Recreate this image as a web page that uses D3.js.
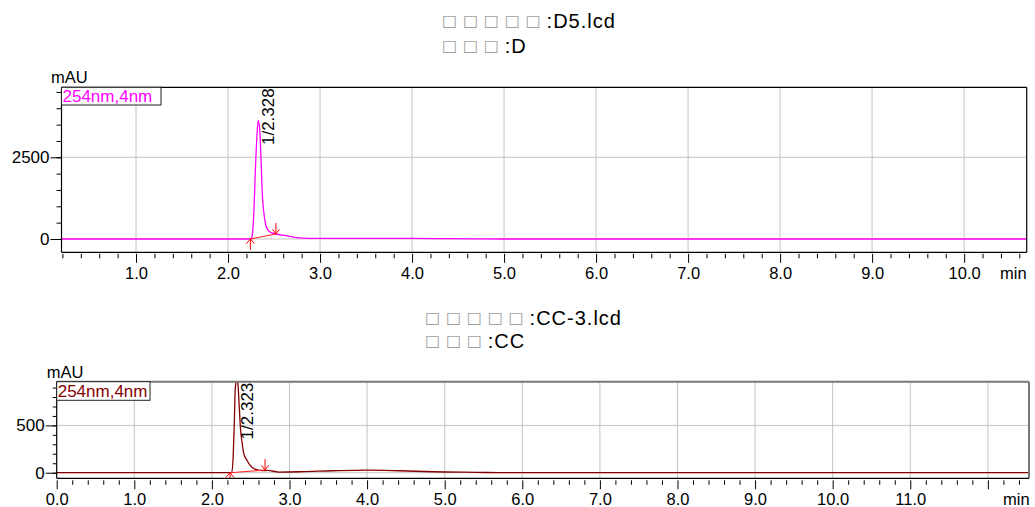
<!DOCTYPE html>
<html>
<head>
<meta charset="utf-8">
<script src="https://cdn.jsdelivr.net/npm/d3@7"></script>
<style>
  html, body { margin: 0; padding: 0; background: #fff; }
  svg { display: block; font-family: "Liberation Sans", Arial, sans-serif; }
</style>
</head>
<body>
<svg id="chart" width="1035" height="507"></svg>
<script>
// ---- Chromatogram 1 : D5.lcd (254nm,4nm) ----
const topTime   = [0.19, 2.20, 2.243, 2.26, 2.28, 2.30, 2.318, 2.328, 2.345, 2.36, 2.374, 2.39, 2.41, 2.435, 2.47, 2.52, 2.63, 2.74, 2.89, 3.20, 3.60, 4.00, 4.40, 4.70, 5.00, 10.68];
const topSignal = [0,    0,    4,     70,   786,  2316, 3335,  3620,  3335,  2316, 1295,  786,  428,  275,   194,  153,  102,  41,   22,   22,   20,   18,   10,   4,    0,    0];
const topBaseline = [[2.243, 0], [2.52, 153]];
const topPeaks  = [{ no: 1, time: 2.328 }];
const topMajorX = [1, 2, 3, 4, 5, 6, 7, 8, 9, 10];
const topMajorY = [0, 2500];
const topMinorY = [0, 500, 1000, 1500, 2000, 2500, 3000, 3500, 4000, 4500];
const topTitle1 = ["□", "□", "□", "□", "□", ":D5.lcd"];
const topTitle2 = ["□", "□", "□", ":D"];

// ---- Chromatogram 2 : CC-3.lcd (254nm,4nm) ----
const botTime   = [0, 2.20, 2.233, 2.255, 2.276, 2.29, 2.30, 2.312, 2.323, 2.334, 2.35, 2.37, 2.39, 2.41, 2.45, 2.49, 2.555, 2.66, 2.72, 2.86, 3.14, 3.56, 4.00, 4.42, 4.85, 5.41, 5.80, 12.53];
const botSignal = [0, 0,    0,     5,     205,   557,  874,  960,   1000,  960,   733,  451,  311,  205,  134,  81,   39,    22,   24,   7,    10,   21,   28,   21,   10,   4,    0,    0];
const botBaseline = [[2.233, 0], [2.685, 28]];
const botPeaks  = [{ no: 1, time: 2.323 }];
const botMajorX = [0, 1, 2, 3, 4, 5, 6, 7, 8, 9, 10, 11, 12];
const botMajorY = [0, 500];
const botMinorY = [0, 100, 200, 300, 400, 500, 600, 700, 800, 900];
const botTitle1 = ["□", "□", "□", "□", "□", ":CC-3.lcd"];
const botTitle2 = ["□", "□", "□", ":CC"];

const channelLabel = "254nm,4nm";

const svg = d3.select("#chart");

function drawTitle(parts, x0, baseline, pitch) {
  const t = svg.append("text").attr("y", baseline).attr("font-size", 20).attr("fill", "#000");
  parts.forEach((p, i) => {
    const isBox = p === "□";
    const ts = t.append("tspan").text(p);
    if (isBox) {
      ts.attr("x", x0 + i * pitch).attr("y", baseline - 2).attr("font-size", 16).attr("fill", "#a0a0a0")
        .attr("font-family", "'DejaVu Sans', sans-serif");
    } else {
      ts.attr("x", x0 + (i - 1) * pitch + 21).attr("y", baseline).attr("letter-spacing", 1);
    }
  });
}

function drawPanel(cfg) {
  const { left, right, top, bottom } = cfg;
  const x = d3.scaleLinear().domain(cfg.xDomain).range([left, right]);
  const y = d3.scaleLinear().domain(cfg.yDomain).range([bottom, top]);
  const g = svg.append("g");
  const clipId = "clip-" + cfg.id;
  svg.append("clipPath").attr("id", clipId)
    .append("rect").attr("x", left).attr("y", top).attr("width", right - left).attr("height", bottom - top);

  // grid
  g.append("g").selectAll("line").data(cfg.majorX.filter(v => x(v) > left + 1 && x(v) < right - 1))
    .join("line")
    .attr("x1", d => x(d)).attr("x2", d => x(d)).attr("y1", top).attr("y2", bottom)
    .attr("stroke", "#c4c4c4").attr("stroke-width", 1);
  g.append("g").selectAll("line").data(cfg.majorY)
    .join("line")
    .attr("x1", left).attr("x2", right).attr("y1", d => y(d)).attr("y2", d => y(d))
    .attr("stroke", "#c4c4c4").attr("stroke-width", 1);

  // x axis ticks (minor every 0.2 min)
  const minorX = d3.range(Math.ceil(cfg.xDomain[0] * 5 - 1e-6), Math.floor(cfg.xDomain[1] * 5 + 1e-6) + 1)
    .map(k => k / 5).filter(v => Math.abs(v - Math.round(v)) > 1e-6);
  g.append("g").attr("transform", `translate(0,${bottom + cfg.tickGap})`)
    .call(d3.axisBottom(x).tickValues(minorX).tickSize(cfg.minorTickX).tickFormat(""))
    .call(a => a.select(".domain").remove())
    .call(a => a.selectAll("line").attr("stroke", "#000"));
  const xa = g.append("g").attr("transform", `translate(0,${bottom + cfg.tickGap})`)
    .call(d3.axisBottom(x).tickValues(cfg.majorX).tickSize(cfg.majorTickX).tickFormat(d3.format(".1f")))
    .call(a => a.select(".domain").remove())
    .call(a => a.selectAll("line").attr("stroke", "#000"));
  xa.selectAll("text").attr("y", cfg.xLabelY).attr("dy", 0)
    .attr("font-size", 16.5).attr("font-family", "'Liberation Sans', Arial, sans-serif").attr("fill", "#000")
    .text(d => cfg.labelX.includes(d) ? d3.format(".1f")(d) : "");

  // y axis ticks
  g.append("g").attr("transform", `translate(${left},0)`)
    .call(d3.axisLeft(y).tickValues(cfg.minorY).tickSize(cfg.minorTickY).tickFormat(""))
    .call(a => a.select(".domain").remove())
    .call(a => a.selectAll("line").attr("stroke", "#000"));
  g.append("g").attr("transform", `translate(${left},0)`)
    .call(d3.axisLeft(y).tickValues(cfg.majorY).tickSize(cfg.majorTickY).tickPadding(1).tickFormat(d3.format("d")))
    .call(a => a.select(".domain").remove())
    .call(a => a.selectAll("line").attr("stroke", "#000"))
    .call(a => a.selectAll("text").attr("font-size", 17)
      .attr("font-family", "'Liberation Sans', Arial, sans-serif").attr("fill", "#000"));

  // signal trace
  const line = d3.line().x((d, i) => x(cfg.time[i])).y(d => y(d)).curve(d3.curveMonotoneX);
  g.append("path").datum(cfg.signal)
    .attr("clip-path", `url(#${clipId})`)
    .attr("d", line).attr("fill", "none").attr("stroke", cfg.color).attr("stroke-width", 1.3);

  // integration baseline and its markers
  g.append("line")
    .attr("x1", x(cfg.baseline[0][0])).attr("y1", y(cfg.baseline[0][1]))
    .attr("x2", x(cfg.baseline[1][0])).attr("y2", y(cfg.baseline[1][1]))
    .attr("stroke", "#ff2020").attr("stroke-width", 1.1);
  const [s, e] = cfg.baseline;
  const sx = x(s[0]), sy = y(s[1]), ex = x(e[0]), ey = y(e[1]);
  g.append("path")
    .attr("d", `M${sx - 4},${sy + 4.7}L${sx},${sy}L${sx + 4},${sy + 4.7}M${sx},${sy}L${sx},${sy + cfg.startStem}`)
    .attr("fill", "none").attr("stroke", "#ff0000").attr("stroke-width", 1);
  g.append("path")
    .attr("d", `M${ex - 3.5},${ey - 4.7}L${ex},${ey}L${ex + 3.5},${ey - 4.7}M${ex},${ey}L${ex},${ey - 11}`)
    .attr("fill", "none").attr("stroke", "#ff0000").attr("stroke-width", 1);

  // peak labels
  cfg.peaks.forEach(p => {
    const px = x(p.time) + 16, py = top + 1;
    g.append("text")
      .attr("transform", `translate(${px},${py}) rotate(-90)`)
      .attr("text-anchor", "end").attr("font-size", 17).attr("fill", "#000")
      .text(`${p.no}/${p.time.toFixed(3)}`);
  });

  // frame
  g.append("line").attr("x1", left).attr("x2", right).attr("y1", top).attr("y2", top)
    .attr("stroke", cfg.frameTop).attr("stroke-width", cfg.frameTopW);
  g.append("line").attr("x1", right).attr("x2", right).attr("y1", top).attr("y2", bottom)
    .attr("stroke", cfg.frameTop).attr("stroke-width", cfg.frameTopW);
  g.append("line").attr("x1", left).attr("x2", right).attr("y1", bottom).attr("y2", bottom)
    .attr("stroke", "#000").attr("stroke-width", 1.2);
  g.append("line").attr("x1", left).attr("x2", left).attr("y1", top).attr("y2", bottom)
    .attr("stroke", "#000").attr("stroke-width", 1.2);

  // channel legend
  g.append("rect").attr("x", left).attr("y", top).attr("width", cfg.legendW).attr("height", cfg.legendH)
    .attr("fill", "#fff").attr("stroke", "#222").attr("stroke-width", 1);
  g.append("text").attr("x", left + 1).attr("y", top + cfg.legendH - 3.5)
    .attr("font-size", 17).attr("fill", cfg.color).text(channelLabel);

  // unit labels
  g.append("text").attr("x", cfg.mauX).attr("y", top - 4).attr("font-size", 16.5).attr("fill", "#000").text("mAU");
  g.append("text").attr("x", cfg.minX).attr("y", bottom + cfg.tickGap + cfg.xLabelY).attr("font-size", 16.5)
    .attr("fill", "#000").text("min");
}

drawTitle(topTitle1, 442, 28, 20.9);
drawTitle(topTitle2, 442, 53, 20.9);
drawTitle(botTitle1, 425, 325, 20.9);
drawTitle(botTitle2, 425, 348, 20.9);

drawPanel({
  id: "top", left: 61.5, right: 1026.7, top: 87.3, bottom: 252.3,
  xDomain: [0.19, 10.68], yDomain: [-407, 4642],
  time: topTime, signal: topSignal, baseline: topBaseline, peaks: topPeaks,
  majorX: topMajorX, labelX: topMajorX, majorY: topMajorY, minorY: topMinorY,
  color: "#ff00ff", tickGap: 1.5, minorTickX: 4.5, majorTickX: 9, xLabelY: 25.5,
  minorTickY: 5, majorTickY: 11, startStem: 10.7,
  frameTop: "#000", frameTopW: 1.2, legendW: 99.5, legendH: 17.7,
  mauX: 51, minX: 1000
});

drawPanel({
  id: "bot", left: 56.7, right: 1029, top: 381.7, bottom: 478.3,
  xDomain: [0, 12.53], yDomain: [-59, 962],
  time: botTime, signal: botSignal, baseline: botBaseline, peaks: botPeaks,
  majorX: botMajorX, labelX: [0, 1, 2, 3, 4, 5, 6, 7, 8, 9, 10, 11], majorY: botMajorY, minorY: botMinorY,
  color: "#850000", tickGap: 2, minorTickX: 4.5, majorTickX: 9, xLabelY: 25,
  minorTickY: 4, majorTickY: 11, startStem: 6,
  frameTop: "#777", frameTopW: 2, legendW: 93.3, legendH: 18.6,
  mauX: 46.7, minX: 1003
});
</script>
</body>
</html>
